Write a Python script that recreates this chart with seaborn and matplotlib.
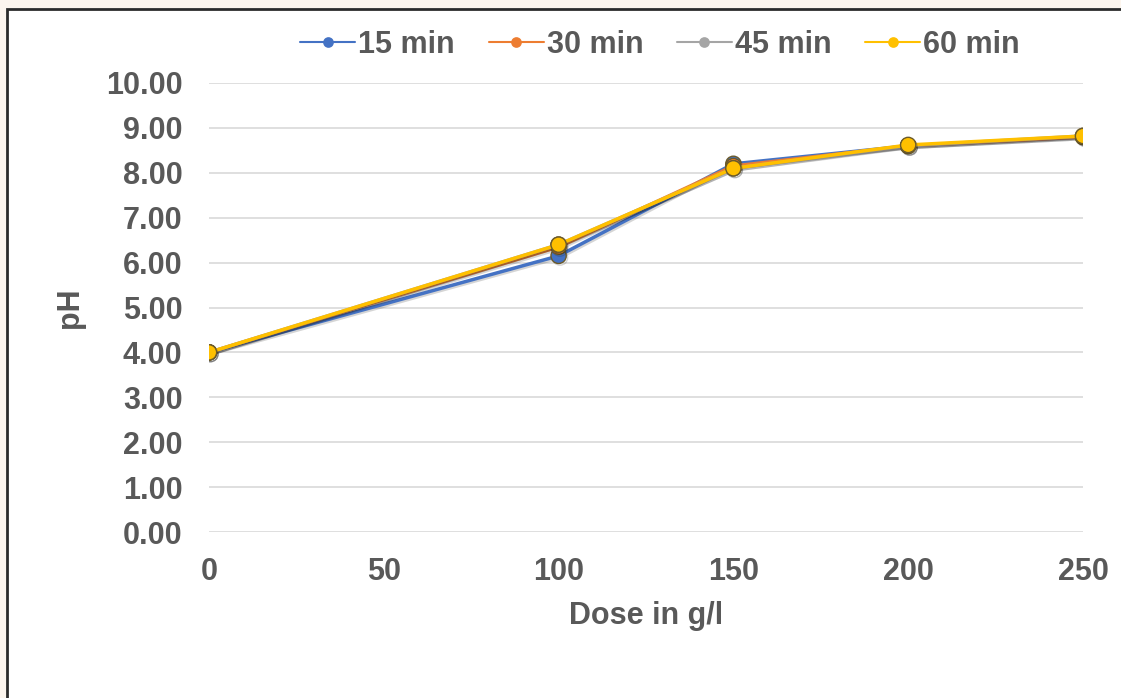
import numpy as np
import pandas as pd
import matplotlib
matplotlib.use("Agg")
import matplotlib.pyplot as plt
import matplotlib.patheffects as pe
from matplotlib.patches import Rectangle
import seaborn as sns

# values
dose = [0, 100, 150, 200, 250]
ph_15 = [4.00, 6.15, 8.20, 8.60, 8.80]
ph_30 = [4.00, 6.35, 8.15, 8.60, 8.80]
ph_45 = [4.00, 6.40, 8.10, 8.60, 8.82]
ph_60 = [4.00, 6.40, 8.10, 8.62, 8.82]
series = ["15 min", "30 min", "45 min", "60 min"]
colors = ["#4472C4", "#ED7D31", "#A5A5A5", "#FFC000"]
y_ticks = np.arange(0, 11, 1)
x_ticks = [0, 50, 100, 150, 200, 250]

df = pd.DataFrame({
    "dose": dose * 4,
    "ph": ph_15 + ph_30 + ph_45 + ph_60,
    "time": [s for s in series for _ in dose],
})

sns.set_theme(style="white")
plt.rcParams["font.family"] = ["Liberation Sans", "DejaVu Sans"]
plt.rcParams["font.weight"] = "bold"
grey = "#595959"
fs = 22

W, H = 1121, 698
fig = plt.figure(figsize=(W / 100, H / 100), dpi=100, facecolor="#fcf5ee")
# white chart area with dark frame (right/bottom edges fall outside the image)
fig.patches.append(Rectangle((7 / W, -0.05), 1.1, 1 - 9 / H + 0.05, transform=fig.transFigure,
                             facecolor="white", edgecolor="#2b2b2b", lw=2, zorder=-5))
ax = fig.add_axes([209 / W, 1 - 532 / H, (1083 - 209) / W, (532 - 83) / H])
ax.set_facecolor("none")

sns.lineplot(data=df, x="dose", y="ph", hue="time", hue_order=series, palette=colors,
             marker="o", markersize=11, markeredgecolor="#6b5a2a", markeredgewidth=1.0,
             linewidth=2.5, ax=ax, legend=True)
for ln in ax.lines:
    ln.set_path_effects([pe.SimpleLineShadow(offset=(1, -1.2), alpha=0.18), pe.Normal()])

ax.set_xlim(0, 250)
ax.set_ylim(0, 10)
ax.set_xticks(x_ticks)
ax.set_yticks(y_ticks)
ax.set_yticklabels([f"{v:.2f}" for v in y_ticks])
ax.grid(axis="y", color="#d9d9d9", lw=1.2)
ax.grid(axis="x", visible=False)
for sp in ax.spines.values():
    sp.set_visible(False)
ax.tick_params(axis="both", length=0, labelsize=fs, labelcolor=grey)
ax.tick_params(axis="y", pad=19)
ax.tick_params(axis="x", pad=18)
for lab in ax.get_xticklabels() + ax.get_yticklabels():
    lab.set_fontweight("bold")

ax.set_xlabel("Dose in g/l", fontsize=fs, color=grey, fontweight="bold", labelpad=10)
ax.set_ylabel("pH", fontsize=fs, color=grey, fontweight="bold")
ax.yaxis.set_label_coords((85 - 209) / (1083 - 209), 0.5)

handles, labels = ax.get_legend_handles_labels()
for h in handles:
    h.set_path_effects([])
leg = ax.legend(handles, labels, loc="center", bbox_to_anchor=(660 / W, 1 - 45 / H),
                bbox_transform=fig.transFigure, ncol=4, frameon=False, fontsize=fs,
                handlelength=1.8, handletextpad=0.1, columnspacing=1.1, markerscale=0.7)
for h in leg.legend_handles:
    h.set_markeredgewidth(0)
    h.set_linewidth(1.5)
for t in leg.get_texts():
    t.set_color(grey)
    t.set_fontweight("bold")

fig.savefig("out.png", dpi=100, facecolor=fig.get_facecolor())
